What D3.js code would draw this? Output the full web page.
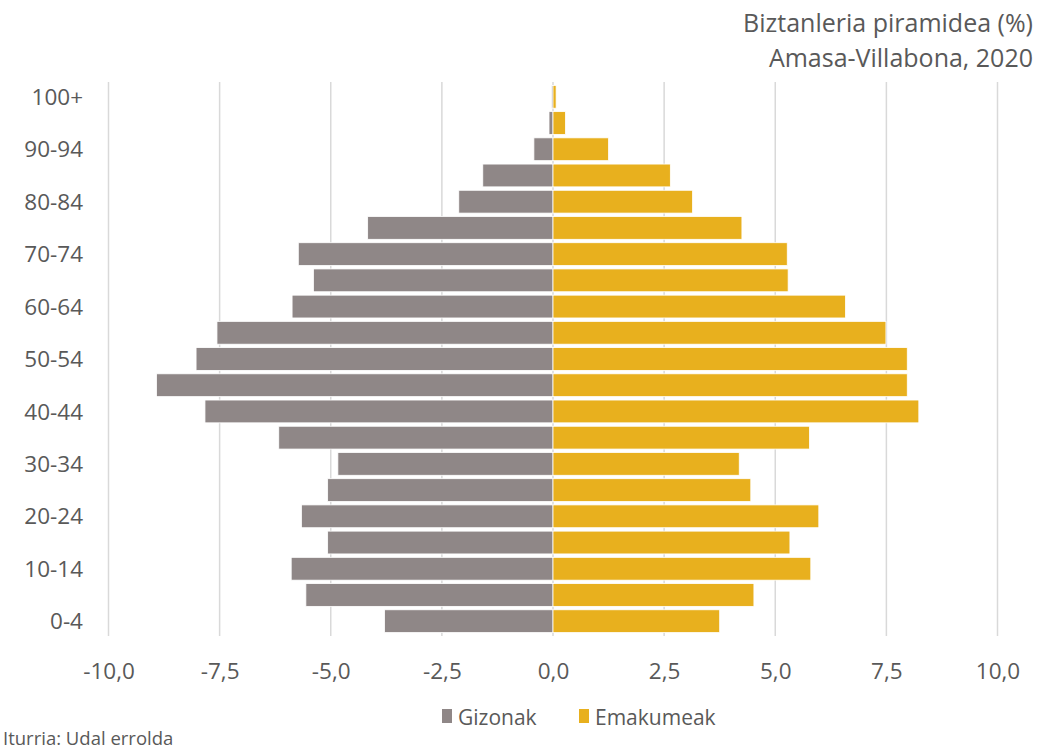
<!DOCTYPE html>
<html lang="eu">
<head>
<meta charset="utf-8">
<script src="https://d3js.org/d3.v7.min.js"></script>
<style>
  body { margin: 0; background: #fff; }
  text { font-family: "Open Sans", "DejaVu Sans", sans-serif; fill: #595959; }
</style>
</head>
<body>
<script>
// age groups, bottom to top
const ages = ["0-4","5-9","10-14","15-19","20-24","25-29","30-34","35-39","40-44","45-49",
  "50-54","55-59","60-64","65-69","70-74","75-79","80-84","85-89","90-94","95-99","100+"];
// percent of population (men drawn to the left)
const gizonak = [3.79,5.56,5.89,5.07,5.66,5.07,4.84,6.17,7.83,8.92,
  8.03,7.56,5.87,5.39,5.73,4.17,2.12,1.58,0.43,0.09,0.03];
const emakumeak = [3.75,4.52,5.80,5.33,5.98,4.45,4.19,5.77,8.23,7.97,
  7.97,7.49,6.58,5.29,5.27,4.25,3.14,2.64,1.25,0.28,0.07];
const xTicks = [-10,-7.5,-5,-2.5,0,2.5,5,7.5,10];
const yLabels = ["0-4","10-14","20-24","30-34","40-44","50-54","60-64","70-74","80-84","90-94","100+"];

const W = 1040, H = 749;
const svg = d3.select("body").append("svg").attr("width", W).attr("height", H);

const x = d3.scaleLinear().domain([-10, 10]).range([108.5, 997.5]);
const y = d3.scaleBand().domain(ages.slice().reverse()).range([82, 636]).padding(0.13);

// gridlines
svg.append("g").selectAll("line").data(xTicks).join("line")
  .attr("x1", d => x(d)).attr("x2", d => x(d))
  .attr("y1", 82).attr("y2", 636)
  .attr("stroke", "#d9d9d9").attr("stroke-width", 1.5);

const rows = ages.map((a, i) => ({age: a, m: gizonak[i], f: emakumeak[i]}));

svg.append("g").selectAll("rect").data(rows).join("rect")
  .attr("x", d => x(-d.m)).attr("width", d => x(0) - x(-d.m))
  .attr("y", d => y(d.age)).attr("height", y.bandwidth())
  .attr("fill", "#8f8787").attr("stroke", "#ffffff").attr("stroke-width", 0.8);

svg.append("g").selectAll("rect").data(rows).join("rect")
  .attr("x", x(0)).attr("width", d => x(d.f) - x(0))
  .attr("y", d => y(d.age)).attr("height", y.bandwidth())
  .attr("fill", "#e8b01e").attr("stroke", "#ffffff").attr("stroke-width", 0.8);

// x axis labels
const xa = svg.append("g").attr("transform", "translate(0,671)")
  .call(d3.axisBottom(x).tickValues(xTicks).tickSize(0).tickPadding(0)
    .tickFormat(d => d3.format(".1f")(d).replace(".", ",").replace("\u2212", "-")));
xa.select(".domain").remove();
xa.selectAll("text").attr("font-size", 22.5).attr("dy", "0.36em").attr("fill", "#595959")
  .style("font-family", '"Open Sans", sans-serif');

// y axis labels
const ya = svg.append("g").attr("transform", "translate(83,0)")
  .call(d3.axisLeft(y).tickValues(yLabels).tickSize(0).tickPadding(0));
ya.select(".domain").remove();
ya.selectAll("text").attr("font-size", 22.5).attr("dy", "0.36em").attr("fill", "#595959")
  .style("font-family", '"Open Sans", sans-serif');

// title
svg.append("text").attr("x", 1033).attr("y", 32).attr("text-anchor", "end")
  .attr("font-size", 25).text("Biztanleria piramidea (%)");
svg.append("text").attr("x", 1033).attr("y", 67).attr("text-anchor", "end")
  .attr("font-size", 25).text("Amasa-Villabona, 2020");

// legend
const legend = [{k: "Gizonak", c: "#8f8787", x: 442}, {k: "Emakumeak", c: "#e8b01e", x: 579}];
const lg = svg.append("g").selectAll("g").data(legend).join("g")
  .attr("transform", d => `translate(${d.x},709)`);
lg.append("rect").attr("width", 10).attr("height", 14).attr("fill", d => d.c);
lg.append("text").attr("x", 16).attr("y", 8).attr("dy", "0.36em").attr("font-size", 21).text(d => d.k);

// source
svg.append("text").attr("x", 3).attr("y", 745).attr("font-size", 18.5).text("Iturria: Udal errolda");
</script>
</body>
</html>
